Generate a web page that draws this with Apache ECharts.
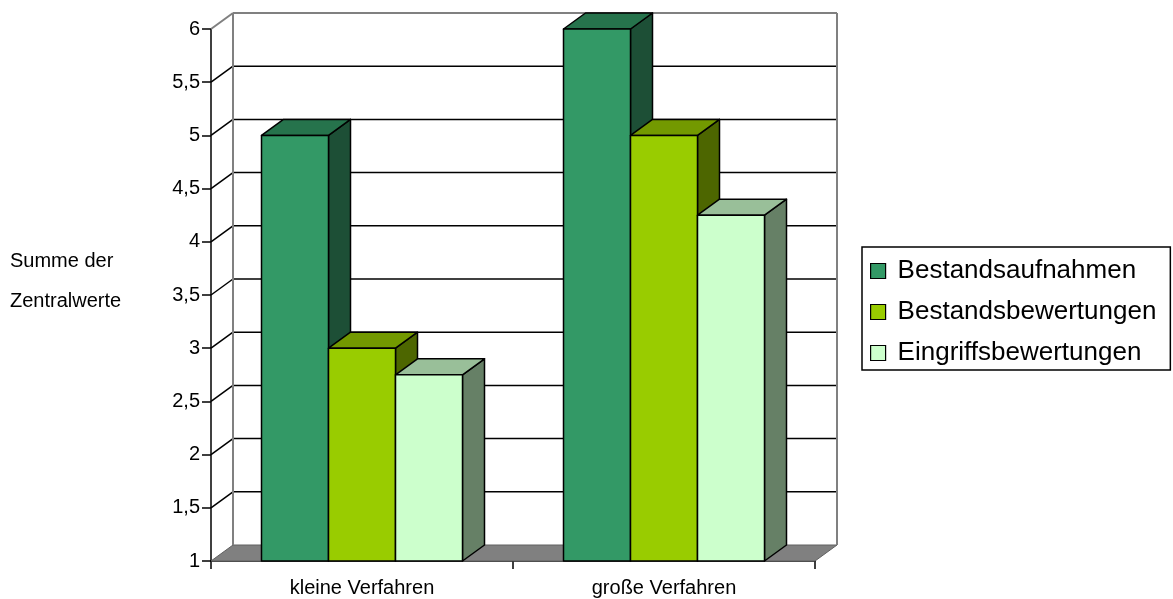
<!DOCTYPE html>
<html>
<head>
<meta charset="utf-8">
<script src="https://cdn.jsdelivr.net/npm/echarts@6/dist/echarts.min.js"></script>
<style>html,body{margin:0;padding:0;background:#fff;}#chart{width:1173px;height:599px;}</style>
</head>
<body>
<div id="chart"></div>
<script>
// ---- data ----
const categories = ['kleine Verfahren', 'große Verfahren'];
const seriesNames = ['Bestandsaufnahmen', 'Bestandsbewertungen', 'Eingriffsbewertungen'];
const bestandsaufnahmen = [5, 6];
const bestandsbewertungen = [3, 5];
const eingriffsbewertungen = [2.75, 4.25];
const yTicks = [1, 1.5, 2, 2.5, 3, 3.5, 4, 4.5, 5, 5.5, 6];
const yAxisTitle = 'Summe der\nZentralwerte';

// ---- styles ----
const frontColors = ['#339966', '#99cc00', '#ccffcc'];
const topColors = ['#26734c', '#739900', '#99bf99'];
const sideColors = ['#1d4f36', '#4d6600', '#668066'];
const DX = 22, DY = -16;
const BAR_FRAC = 67 / 302;
const Y_MIN = yTicks[0], Y_MAX = yTicks[yTicks.length - 1];

const seriesValues = [bestandsaufnahmen, bestandsbewertungen, eingriffsbewertungen];

function barRender(idx) {
  return function (params, api) {
    const cat = api.value(0), val = api.value(1);
    const t = api.coord([cat, val]);
    const b = api.coord([cat, Y_MIN]);
    const band = api.size([1, 0])[0];
    const bw = band * BAR_FRAC;
    const xl = t[0] - 1.5 * bw + idx * bw, xr = xl + bw;
    const yt = t[1], yb = b[1];
    const stroke = {stroke: '#000', lineWidth: 1.5, lineJoin: 'round'};
    return {
      type: 'group',
      children: [
        {type: 'polygon', shape: {points: [[xr, yt], [xr + DX, yt + DY], [xr + DX, yb + DY], [xr, yb]]},
          style: Object.assign({fill: sideColors[idx]}, stroke)},
        {type: 'polygon', shape: {points: [[xl, yt], [xr, yt], [xr + DX, yt + DY], [xl + DX, yt + DY]]},
          style: Object.assign({fill: topColors[idx]}, stroke)},
        {type: 'rect', shape: {x: xl, y: yt, width: bw, height: yb - yt},
          style: Object.assign({fill: frontColors[idx]}, stroke)}
      ]
    };
  };
}

function frameRender(params, api) {
  const v = api.value(1);
  const cs = params.coordSys;
  const gx = cs.x, gw = cs.width;
  const y = api.coord([0, v])[1];
  const children = [];
  if (v === Y_MIN) {
    children.push({type: 'polygon',
      shape: {points: [[gx, y], [gx + gw, y], [gx + gw + DX, y + DY], [gx + DX, y + DY]]},
      style: {fill: '#808080', stroke: '#606060', lineWidth: 1}});
    return {type: 'group', children};
  }
  const col = (v === Y_MAX) ? '#808080' : '#000';
  const lw = (v === Y_MAX) ? 2 : 1.5;
  children.push({type: 'line', shape: {x1: gx, y1: y, x2: gx + DX, y2: y + DY}, style: {stroke: col, lineWidth: lw}});
  children.push({type: 'line', shape: {x1: gx + DX, y1: y + DY, x2: gx + gw + DX, y2: y + DY}, style: {stroke: col, lineWidth: lw}});
  if (v === Y_MAX) {
    const yb = api.coord([0, Y_MIN])[1];
    children.push({type: 'line', shape: {x1: gx + DX, y1: y + DY, x2: gx + DX, y2: yb + DY}, style: {stroke: '#808080', lineWidth: 2}});
    children.push({type: 'line', shape: {x1: gx + gw + DX, y1: y + DY, x2: gx + gw + DX, y2: yb + DY}, style: {stroke: '#808080', lineWidth: 2}});
  }
  return {type: 'group', children};
}

const series = [{
  type: 'custom',
  name: 'frame',
  z: 1,
  silent: true,
  renderItem: frameRender,
  encode: {x: 0, y: 1},
  data: yTicks.map(v => [0, v])
}];
seriesNames.forEach((name, i) => {
  series.push({
    type: 'custom',
    name: name,
    z: 2 + i,
    renderItem: barRender(i),
    itemStyle: {color: frontColors[i]},
    encode: {x: 0, y: 1},
    data: seriesValues[i].map((v, c) => [c, v])
  });
});

const chart = echarts.init(document.getElementById('chart'), null, {renderer: 'canvas'});
chart.setOption({
  animation: false,
  backgroundColor: '#ffffff',
  textStyle: {fontFamily: '"Liberation Sans", Arial, sans-serif', color: '#000'},
  title: {
    text: yAxisTitle,
    left: 10, top: 241, padding: 0,
    textStyle: {fontSize: 20, fontWeight: 'normal', lineHeight: 40, color: '#000', fontFamily: '"Liberation Sans", Arial, sans-serif'}
  },
  legend: {
    orient: 'vertical',
    left: 862, top: 247,
    padding: [11, 14, 4, 8],
    itemGap: 15,
    itemWidth: 15, itemHeight: 15,
    icon: 'rect',
    borderColor: '#000', borderWidth: 1.5,
    itemStyle: {borderColor: '#000', borderWidth: 1.2},
    textStyle: {fontSize: 26, color: '#000', padding: [0, 0, 0, 7], fontFamily: '"Liberation Sans", Arial, sans-serif'},
    data: seriesNames
  },
  grid: {left: 211, top: 29, right: 358, bottom: 38},
  xAxis: {
    type: 'category',
    data: categories,
    boundaryGap: true,
    axisLine: {lineStyle: {color: '#000', width: 1.5}},
    axisTick: {show: true, length: 8, lineStyle: {color: '#000', width: 1.5}},
    axisLabel: {fontSize: 20, color: '#000', margin: 17},
    splitLine: {show: false}
  },
  yAxis: {
    type: 'value',
    min: Y_MIN, max: Y_MAX, interval: 0.5,
    axisLine: {show: true, lineStyle: {color: '#000', width: 1.5}},
    axisTick: {show: true, length: 9, lineStyle: {color: '#000', width: 1.5}},
    axisLabel: {fontSize: 20, color: '#000', margin: 11, formatter: v => String(v).replace('.', ',')},
    splitLine: {show: false}
  },
  series: series
});
</script>
</body>
</html>
